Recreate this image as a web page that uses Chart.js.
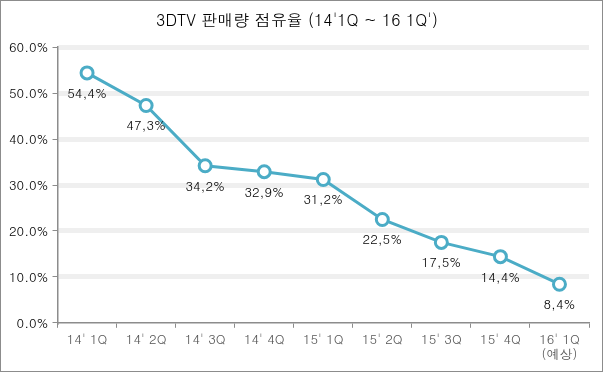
<!DOCTYPE html>
<html>
<head>
<meta charset="utf-8">
<script src="https://cdn.jsdelivr.net/npm/chart.js@4.4.0/dist/chart.umd.min.js"></script>
<style>
  html, body { margin: 0; padding: 0; background: #fff; }
  #wrap { position: absolute; left: 0; top: 0; width: 601px; height: 370px; border: 1px solid #8c8c8c; }
</style>
</head>
<body>
<div id="wrap"><canvas id="mycanvas1" width="601" height="370"></canvas></div>
<script>
var titleText = "3DTV 판매량 점유율 (14'1Q ~ 16 1Q')";
var quarters = [["14' 1Q"], ["14' 2Q"], ["14' 3Q"], ["14' 4Q"], ["15' 1Q"], ["15' 2Q"], ["15' 3Q"], ["15' 4Q"], ["16' 1Q", "(예상)"]];
var share = [54.4, 47.3, 34.2, 32.9, 31.2, 22.5, 17.5, 14.4, 8.4];
var yTicks = [0, 10, 20, 30, 40, 50, 60];

var fontFam = "Dotum, Gulim, 'Noto Sans CJK KR', sans-serif";

// labels under each point, "54,4%" style
var valueLabels = {
  id: 'valueLabels',
  afterDatasetsDraw: function(chart) {
    var ctx = chart.ctx;
    var meta = chart.getDatasetMeta(0);
    ctx.save();
    ctx.font = "13px " + fontFam;
    ctx.fillStyle = "#000";
    ctx.textAlign = "center";
    ctx.textBaseline = "middle";
    meta.data.forEach(function(pt, i) {
      var txt = share[i].toFixed(1).replace('.', ',') + '%';
      ctx.fillText(txt, pt.x, pt.y + 20);
    });
    ctx.restore();
  }
};

var ctx = document.getElementById('mycanvas1');
var LineGraph = new Chart(ctx, {
  type: 'line',
  data: {
    labels: quarters,
    datasets: [{
      data: share,
      borderColor: "#4bacc6",
      borderWidth: 3,
      backgroundColor: "#ffffff",
      pointBackgroundColor: "#ffffff",
      pointBorderColor: "#4bacc6",
      pointBorderWidth: 3,
      pointRadius: 6,
      lineTension: 0,
      fill: false
    }]
  },
  options: {
    responsive: false,
    animation: false,
    layout: { padding: { left: 4, right: 13, top: 0, bottom: 6 } },
    plugins: {
      legend: { display: false },
      tooltip: { enabled: false },
      title: {
        display: true,
        text: titleText,
        color: "#000",
        font: { family: fontFam, size: 16, weight: 'normal' },
        padding: { top: 9, bottom: 18 }
      }
    },
    scales: {
      x: {
        offset: true,
        grid: {
          offset: true,
          display: true,
          drawOnChartArea: false,
          drawTicks: true,
          tickLength: 5,
          color: "#8c8c8c"
        },
        border: { display: true, color: "#8c8c8c", width: 1.5 },
        ticks: {
          color: "#555",
          font: { family: fontFam, size: 13 },
          maxRotation: 0,
          autoSkip: false,
          padding: 3
        }
      },
      y: {
        min: 0,
        max: 60,
        afterBuildTicks: function(axis) {
          axis.ticks = yTicks.map(function(v) { return { value: v }; });
        },
        grid: {
          color: function(c) { return c.tick && c.tick.value === 0 ? "rgba(0,0,0,0)" : "#efefef"; },
          lineWidth: 5,
          drawTicks: true,
          tickLength: 5,
          tickColor: "#8c8c8c",
          tickWidth: 1
        },
        border: { display: true, color: "#8c8c8c", width: 1.5 },
        ticks: {
          color: "#000",
          font: { family: fontFam, size: 13 },
          padding: 4,
          callback: function(v) { return v.toFixed(1) + '%'; }
        }
      }
    }
  },
  plugins: [valueLabels]
});
</script>
</body>
</html>
